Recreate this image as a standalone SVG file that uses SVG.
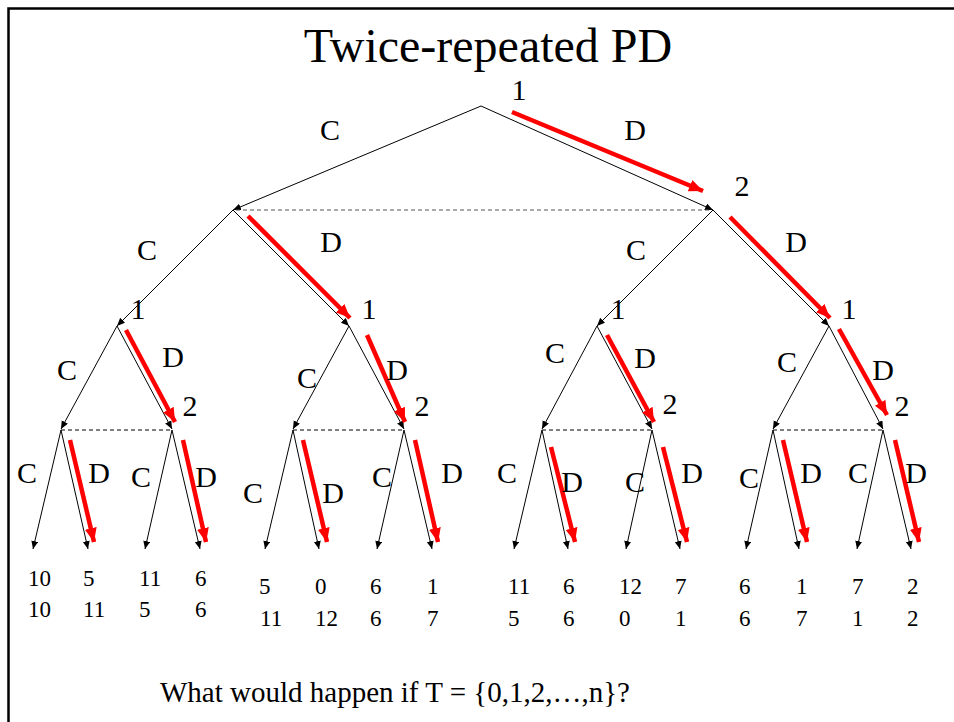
<svg xmlns="http://www.w3.org/2000/svg" width="954" height="722" viewBox="0 0 954 722">
<defs>
<marker id="ah" markerUnits="userSpaceOnUse" markerWidth="10" markerHeight="8" refX="8" refY="3.5" orient="auto"><path d="M0,0 L8,3.5 L0,7 Z" fill="#000"/></marker>
<marker id="rh" markerUnits="userSpaceOnUse" markerWidth="16" markerHeight="13" refX="14" refY="6" orient="auto"><path d="M0,0 L14,6 L0,12 Z" fill="#ff0000"/></marker>
</defs>
<style>
text{font-family:"Liberation Serif","Times New Roman",serif;fill:#000}
.t{font-size:48px}
.lb{font-size:30px;text-anchor:middle}
.pl{font-size:30px;text-anchor:middle}
.py{font-size:23px}
.q{font-size:29px}
.e{stroke:#000;stroke-width:1;fill:none;marker-end:url(#ah)}
.d{stroke:#000;stroke-width:1;stroke-dasharray:4 3}
.d0{stroke:#555;stroke-width:1.2;stroke-dasharray:4 3}
.r{stroke:#ff0000;stroke-width:4.5;marker-end:url(#rh)}
</style>
<rect x="8.5" y="8.5" width="960" height="730" fill="none" stroke="#000" stroke-width="2.5"/>
<text class="t" x="488" y="62" text-anchor="middle">Twice-repeated PD</text>

<g id="connectors">
<line class="e" x1="481" y1="106" x2="233" y2="210"/>
<line class="e" x1="481" y1="106" x2="713" y2="210"/>
<line class="d0" x1="236" y1="210" x2="710" y2="210"/>
<line class="e" x1="233" y1="210" x2="117" y2="326"/>
<line class="e" x1="233" y1="210" x2="349" y2="326"/>
<line class="e" x1="713" y1="210" x2="597" y2="326"/>
<line class="e" x1="713" y1="210" x2="829" y2="326"/>
<line class="e" x1="117" y1="326" x2="61" y2="429"/>
<line class="e" x1="117" y1="326" x2="172" y2="429"/>
<line class="e" x1="349" y1="326" x2="293" y2="429"/>
<line class="e" x1="349" y1="326" x2="404" y2="429"/>
<line class="e" x1="597" y1="326" x2="542" y2="429"/>
<line class="e" x1="597" y1="326" x2="652" y2="429"/>
<line class="e" x1="829" y1="326" x2="773" y2="429"/>
<line class="e" x1="829" y1="326" x2="883" y2="429"/>
<line class="d" x1="61" y1="430" x2="172" y2="430"/>
<line class="d" x1="293" y1="430" x2="404" y2="430"/>
<line class="d" x1="542" y1="430" x2="652" y2="430"/>
<line class="d" x1="773" y1="430" x2="883" y2="430"/>
<line class="e" x1="61" y1="430" x2="33" y2="549"/>
<line class="e" x1="61" y1="430" x2="88" y2="549"/>
<line class="e" x1="172" y1="430" x2="145" y2="549"/>
<line class="e" x1="172" y1="430" x2="200" y2="549"/>
<line class="e" x1="293" y1="430" x2="265" y2="549"/>
<line class="e" x1="293" y1="430" x2="319" y2="549"/>
<line class="e" x1="404" y1="430" x2="377" y2="549"/>
<line class="e" x1="404" y1="430" x2="432" y2="549"/>
<line class="e" x1="542" y1="430" x2="514" y2="549"/>
<line class="e" x1="542" y1="430" x2="568" y2="549"/>
<line class="e" x1="652" y1="430" x2="626" y2="549"/>
<line class="e" x1="652" y1="430" x2="680" y2="549"/>
<line class="e" x1="773" y1="430" x2="746" y2="549"/>
<line class="e" x1="773" y1="430" x2="799" y2="549"/>
<line class="e" x1="883" y1="430" x2="857" y2="549"/>
<line class="e" x1="883" y1="430" x2="911" y2="549"/>
<line class="r" x1="512" y1="112" x2="703" y2="191"/>
<line class="r" x1="248" y1="216" x2="350" y2="318"/>
<line class="r" x1="730" y1="217" x2="830" y2="318"/>
<line class="r" x1="126" y1="330" x2="175" y2="422"/>
<line class="r" x1="367" y1="335" x2="405" y2="422"/>
<line class="r" x1="607" y1="335" x2="654" y2="422"/>
<line class="r" x1="839" y1="329" x2="887" y2="415"/>
<line class="r" x1="70" y1="440" x2="94" y2="542"/>
<line class="r" x1="183" y1="440" x2="206" y2="542"/>
<line class="r" x1="303" y1="440" x2="327" y2="542"/>
<line class="r" x1="415" y1="440" x2="438" y2="542"/>
<line class="r" x1="551" y1="447" x2="575" y2="542"/>
<line class="r" x1="663" y1="447" x2="687" y2="542"/>
<line class="r" x1="783" y1="440" x2="807" y2="542"/>
<line class="r" x1="895" y1="440" x2="919" y2="542"/>
<text class="lb" x="330" y="140">C</text>
<text class="lb" x="635" y="140">D</text>
<text class="lb" x="147" y="260">C</text>
<text class="lb" x="331" y="252">D</text>
<text class="lb" x="636" y="260">C</text>
<text class="lb" x="796" y="252">D</text>
<text class="lb" x="67" y="380">C</text>
<text class="lb" x="173" y="367">D</text>
<text class="lb" x="307" y="388">C</text>
<text class="lb" x="397" y="380">D</text>
<text class="lb" x="555" y="363">C</text>
<text class="lb" x="645" y="368">D</text>
<text class="lb" x="787" y="372">C</text>
<text class="lb" x="883" y="380">D</text>
<text class="lb" x="27" y="483">C</text>
<text class="lb" x="99" y="483">D</text>
<text class="lb" x="141" y="487">C</text>
<text class="lb" x="206" y="487">D</text>
<text class="lb" x="253" y="503">C</text>
<text class="lb" x="333" y="503">D</text>
<text class="lb" x="382" y="487">C</text>
<text class="lb" x="452" y="483">D</text>
<text class="lb" x="507" y="483">C</text>
<text class="lb" x="572" y="492">D</text>
<text class="lb" x="635" y="492">C</text>
<text class="lb" x="692" y="483">D</text>
<text class="lb" x="749" y="488">C</text>
<text class="lb" x="811" y="483">D</text>
<text class="lb" x="858" y="483">C</text>
<text class="lb" x="916" y="483">D</text>
</g>

<g id="n-root"><text class="pl" x="519" y="100">1</text></g>
<g id="n-p2"><text class="pl" x="742" y="196">2</text></g>
<g id="n-1-CC"><text class="pl" x="138" y="319">1</text></g>
<g id="n-1-CD"><text class="pl" x="369" y="319">1</text></g>
<g id="n-1-DC"><text class="pl" x="618" y="319">1</text></g>
<g id="n-1-DD"><text class="pl" x="849" y="319">1</text></g>
<g id="n-2-CC"><text class="pl" x="190" y="416">2</text></g>
<g id="n-2-CD"><text class="pl" x="422" y="416">2</text></g>
<g id="n-2-DC"><text class="pl" x="670" y="414">2</text></g>
<g id="n-2-DD"><text class="pl" x="902" y="416">2</text></g>

<g id="payoffs">
<text class="py" x="28" y="586">10</text><text class="py" x="28" y="617">10</text>
<text class="py" x="83" y="586">5</text><text class="py" x="83" y="617">11</text>
<text class="py" x="139" y="586">11</text><text class="py" x="139" y="617">5</text>
<text class="py" x="195" y="586">6</text><text class="py" x="195" y="617">6</text>
<text class="py" x="259" y="594">5</text><text class="py" x="260" y="626">11</text>
<text class="py" x="315" y="594">0</text><text class="py" x="315" y="626">12</text>
<text class="py" x="370" y="594">6</text><text class="py" x="370" y="626">6</text>
<text class="py" x="427" y="594">1</text><text class="py" x="427" y="626">7</text>
<text class="py" x="508" y="594">11</text><text class="py" x="508" y="626">5</text>
<text class="py" x="563" y="594">6</text><text class="py" x="563" y="626">6</text>
<text class="py" x="619" y="594">12</text><text class="py" x="619" y="626">0</text>
<text class="py" x="675" y="594">7</text><text class="py" x="675" y="626">1</text>
<text class="py" x="739" y="594">6</text><text class="py" x="739" y="626">6</text>
<text class="py" x="796" y="594">1</text><text class="py" x="796" y="626">7</text>
<text class="py" x="852" y="594">7</text><text class="py" x="852" y="626">1</text>
<text class="py" x="907" y="594">2</text><text class="py" x="907" y="626">2</text>
</g>

<text class="q" x="160" y="702">What would happen if T = {0,1,2,…,n}?</text>
</svg>
